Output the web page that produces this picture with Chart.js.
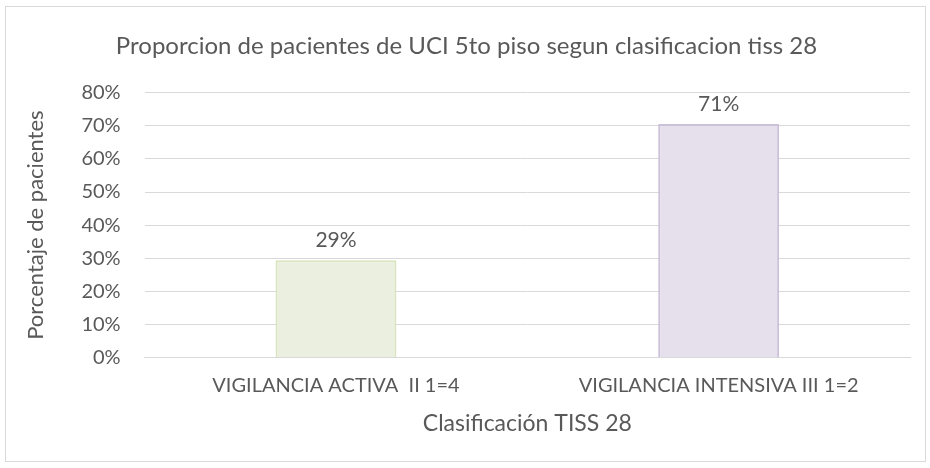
<!DOCTYPE html>
<html><head><meta charset="utf-8">
<script src="https://cdn.jsdelivr.net/npm/chart.js@4"></script>
<style>html,body{margin:0;padding:0;background:#fff}#w{width:930px;height:468px}</style>
</head><body><div id="w"><canvas id="c" width="930" height="468"></canvas></div>
<script>
const categories = ["VIGILANCIA ACTIVA  II 1=4", "VIGILANCIA INTENSIVA III 1=2"];
const values = [29.4, 70.6];
const valueLabels = ["29%", "71%"];
const fills = ["#ebefe0", "#e5e0ec"];
const borders = ["#d7e4bd", "#ccc1da"];
const FONT = "Lato, 'Open Sans', sans-serif";
const TXT = "#595959";

const frame = {
  id: 'frame',
  beforeDraw(chart) {
    const ctx = chart.ctx;
    ctx.save();
    ctx.fillStyle = '#fff';
    ctx.fillRect(0,0,chart.width,chart.height);
    ctx.strokeStyle = '#d9d9d9';
    ctx.lineWidth = 1;
    ctx.strokeRect(5.5, 6.5, 920, 455);
    ctx.restore();
  },
  afterDatasetsDraw(chart) {
    const ctx = chart.ctx;
    const meta = chart.getDatasetMeta(0);
    ctx.save();
    ctx.fillStyle = TXT;
    ctx.font = "21px " + FONT;
    ctx.textAlign = 'center';
    ctx.textBaseline = 'middle';
    meta.data.forEach((b, i) => {
      ctx.fillText(valueLabels[i], b.x, b.y - 20);
    });
    ctx.restore();
  }
};

new Chart(document.getElementById('c'), {
  type: 'bar',
  data: {
    labels: categories,
    datasets: [{
      data: values,
      backgroundColor: fills,
      borderColor: borders,
      borderWidth: 2,
      categoryPercentage: 1,
      barPercentage: 0.316
    }]
  },
  options: {
    responsive: false,
    animation: false,
    layout: { padding: { left: 23, right: 20, top: 32, bottom: 31 } },
    plugins: {
      legend: { display: false },
      tooltip: { enabled: false },
      title: {
        display: true,
        text: "Proporcion de pacientes de UCI 5to piso segun clasificacion tiss 28",
        color: TXT,
        font: { family: FONT, size: 24, weight: 'normal' },
        padding: { top: 0, bottom: 32 }
      }
    },
    scales: {
      x: {
        grid: { display: false, drawTicks: false },
        border: { color: '#d9d9d9', width: 1 },
        ticks: { color: TXT, font: { family: FONT, size: 20 }, padding: 16 },
        title: { display: true, text: "Clasificación TISS 28", color: TXT, font: { family: FONT, size: 23 }, padding: { top: -4, bottom: 0 } }
      },
      y: {
        min: 0, max: 80,
        grid: { color: '#d9d9d9', drawTicks: false },
        border: { display: false },
        ticks: { stepSize: 10, color: TXT, font: { family: FONT, size: 20 }, padding: 24, callback: v => v + "%" },
        title: { display: true, text: "Porcentaje de pacientes", color: TXT, font: { family: FONT, size: 22 }, padding: { top: 0, bottom: 8 } }
      }
    }
  },
  plugins: [frame]
});
</script></body></html>
